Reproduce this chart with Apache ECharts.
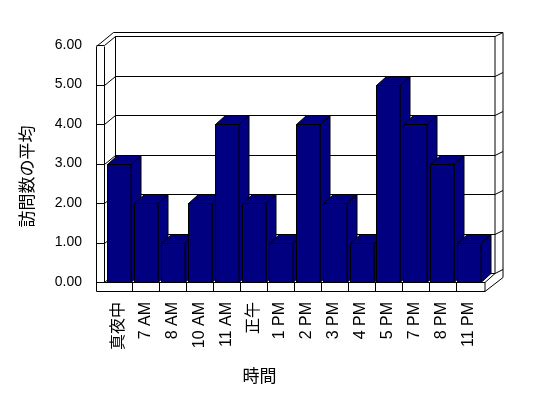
<!DOCTYPE html>
<html>
<head>
<meta charset="utf-8">
<script src="https://cdn.jsdelivr.net/npm/echarts@6/dist/echarts.min.js"></script>
<style>
  html, body { margin: 0; padding: 0; background: #fff; }
  #chart { width: 548px; height: 398px; }
</style>
</head>
<body>
<div id="chart"></div>
<script>
  // data
  const categories = ["真夜中", "7 AM", "8 AM", "10 AM", "11 AM", "正午", "1 PM", "2 PM", "3 PM", "4 PM", "5 PM", "7 PM", "8 PM", "11 PM"];
  const visits = [3, 2, 1, 2, 4, 2, 1, 4, 2, 1, 5, 4, 3, 1];
  const yMin = 0;
  const yMax = 6;
  const yStep = 1;

  const FONT = "'Liberation Sans', 'Noto Sans CJK JP', sans-serif";
  const BAR = "#000080";
  const DX = 11, DY = -9;       // depth of the box
  const BDX = 10, BDY = -9;     // depth of a bar

  const line = (x1, y1, x2, y2) => ({
    type: "line",
    shape: { x1: x1, y1: y1, x2: x2, y2: y2 },
    style: { stroke: "#000", lineWidth: 1 }
  });

  // walls, floor and gridlines of the box
  function renderFrame(params, api) {
    const band = api.size([1, 0])[0];
    const p0 = api.coord([0, yMin]);
    const x0 = Math.round(p0[0] - band / 2) + 0.5;
    const x1 = Math.round(x0 + band * categories.length);
    const y0 = Math.round(p0[1]) + 0.5;
    const yTop = Math.round(api.coord([0, yMax])[1]) + 0.5;
    const kids = [];

    kids.push({
      type: "polygon",
      shape: { points: [
        [x0 - 9, y0 + 9], [x0 - 9, yTop + 1], [x0 + DX - 3, yTop + DY - 4],
        [x1 + DX + 9, yTop + DY - 4], [x1 + DX + 9, y0 + DY + 4], [x1 + 2, y0 + 9]
      ] },
      style: { fill: "#fff", stroke: "#000", lineWidth: 1 }
    });
    kids.push({
      type: "rect",
      shape: { x: x0 - 1 + DX, y: yTop + DY, width: x1 - x0 + 2, height: y0 - yTop },
      style: { fill: "#fff", stroke: "#000", lineWidth: 1 }
    });
    kids.push(line(x0 - 1, yTop + 1, x0 - 1, y0));

    for (let v = yMin; v <= yMax; v += yStep) {
      const yf = Math.round(api.coord([0, v])[1]) + 0.5;
      kids.push(line(x0 - 9, yf, x0 - 1, yf));
      kids.push(line(x0 - 1, yf, x0 - 1 + DX, yf + DY));
      kids.push(line(x0 - 1 + DX, yf + DY, x1 + DX + 1, yf + DY));
      kids.push(line(x1 + DX + 1, yf + DY, x1 + DX + 9, yf + DY - 4));
    }

    // floor front face with category cells
    kids.push(line(x0 - 1, y0, x1 + 2, y0));
    for (let k = 1; k < categories.length; k++) {
      const xk = Math.round(x0 + band * k) + 0.5;
      kids.push(line(xk, y0, xk, y0 + 9));
    }
    kids.push(line(x1 + 2, y0, x1 + 2, y0 + 9));
    kids.push(line(x1 + 2, y0, x1 + DX + 1, y0 + DY));

    return { type: "group", children: kids };
  }

  function renderBar(params, api) {
    const idx = api.value(0);
    const val = api.value(1);
    const band = api.size([1, 0])[0];
    const base = api.coord([idx, yMin]);
    const top = api.coord([idx, val]);
    const xl = Math.round(base[0] - band / 2 + band * 0.08) + 0.5;
    const xr = Math.round(xl + band * 0.86);
    const by = Math.round(base[1]) + 0.5;
    const ty = Math.round(top[1]) + 0.5;
    const st = { fill: BAR, stroke: "#000", lineWidth: 1 };
    return {
      type: "group",
      children: [
        { type: "polygon", shape: { points: [[xr, ty], [xr + BDX, ty + BDY], [xr + BDX, by + BDY], [xr, by]] }, style: st },
        { type: "polygon", shape: { points: [[xl, ty], [xl + BDX, ty + BDY], [xr + BDX, ty + BDY], [xr, ty]] }, style: st },
        { type: "rect", shape: { x: xl, y: ty, width: xr - xl, height: by - ty }, style: st }
      ]
    };
  }

  const chart = echarts.init(document.getElementById("chart"), null, { renderer: "canvas" });

  chart.setOption({
    backgroundColor: "#fff",
    animation: false,
    textStyle: { fontFamily: FONT, color: "#000" },
    grid: { left: 105, right: 66, top: 45, bottom: 116 },
    xAxis: {
      type: "category",
      data: categories,
      name: "時間",
      nameLocation: "middle",
      nameGap: 87,
      nameTextStyle: { fontSize: 17, color: "#000", fontFamily: FONT, padding: [0, 68, 0, 0] },
      axisLine: { show: false },
      axisTick: { show: false },
      axisLabel: { rotate: 90, interval: 0, margin: 20, fontSize: 16, color: "#000" }
    },
    yAxis: {
      type: "value",
      min: yMin,
      max: yMax,
      interval: yStep,
      name: "訪問数の平均",
      nameLocation: "middle",
      nameRotate: 90,
      nameGap: 68,
      nameTextStyle: { fontSize: 17, color: "#000", fontFamily: FONT, padding: [0, 26, 0, 0] },
      axisLine: { show: false },
      axisTick: { show: false },
      splitLine: { show: false },
      axisLabel: { margin: 23, fontSize: 14, color: "#000", formatter: (v) => v.toFixed(2) }
    },
    series: [
      {
        type: "custom",
        silent: true,
        renderItem: renderFrame,
        data: [[0, 0]],
        encode: { x: 0, y: 1 },
        z: 1
      },
      {
        type: "custom",
        renderItem: renderBar,
        data: visits.map((v, i) => [i, v]),
        encode: { x: 0, y: 1 },
        z: 2
      }
    ]
  });
</script>
</body>
</html>
